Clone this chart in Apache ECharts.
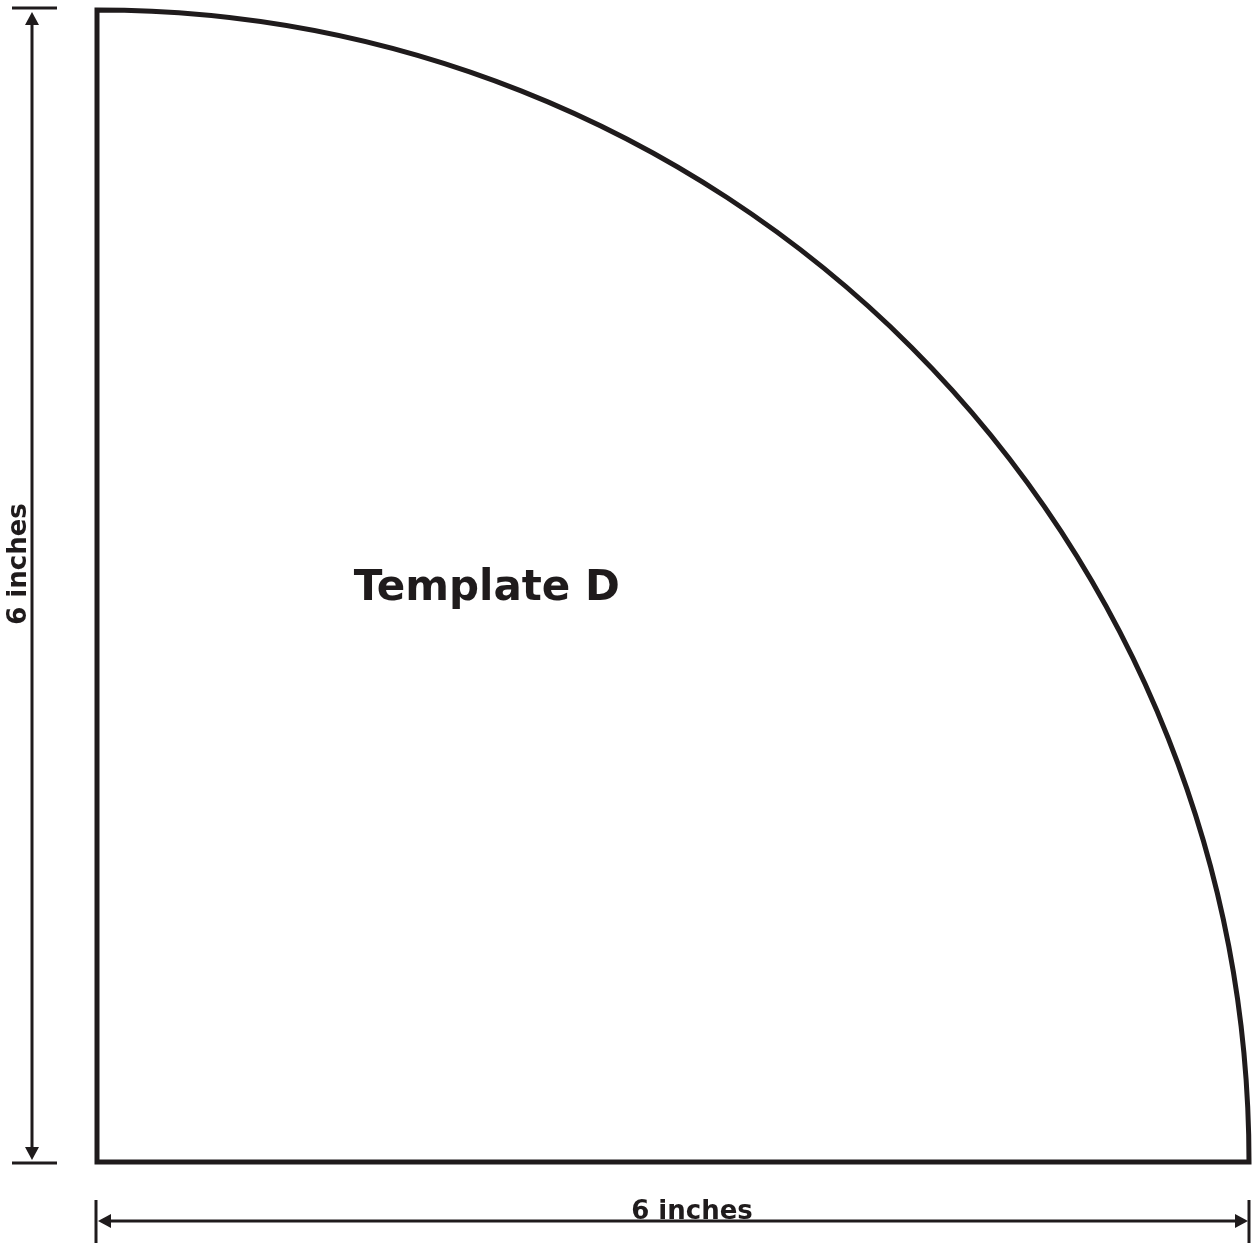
<!DOCTYPE html>
<html>
<head>
<meta charset="utf-8">
<script src="https://cdn.jsdelivr.net/npm/echarts@6/dist/echarts.min.js"></script>
<style>
  html, body { margin: 0; padding: 0; background: #fff; }
  #chart { width: 1252px; height: 1243px; }
</style>
</head>
<body>
<div id="chart"></div>
<script>
// template size in inches
const shapeWidth = 6;
const shapeHeight = 6;
const widthLabel = '6 inches';
const heightLabel = '6 inches';
const titleText = 'Template D';
// where the title sits, in inches from the corner
const titlePos = [2.03, 2.99];

const ink = '#1f1b1c';
const font = '"DejaVu Sans", Verdana, sans-serif';

function renderShape(params, api) {
    const c = api.coord([api.value(0), api.value(1)]);
    const r = api.size([api.value(2), 0])[0];
    return {
        type: 'sector',
        shape: { cx: c[0], cy: c[1], r: r, r0: 0, startAngle: -Math.PI / 2, endAngle: 0, clockwise: true },
        style: { fill: '#fff', stroke: ink, lineWidth: 5, lineJoin: 'miter' }
    };
}

function renderDims(params, api) {
    const p0 = api.coord([0, 0]);
    const pTop = api.coord([0, shapeHeight]);
    const pRight = api.coord([shapeWidth, 0]);
    const line = { stroke: ink, lineWidth: 3 };
    const head = { fill: ink };
    const a = 13, w = 7;

    // vertical dimension
    const vx = p0[0] - 65, vy1 = pTop[1], vy2 = p0[1] - 2;
    // horizontal dimension
    const hy = p0[1] + 59, hx1 = p0[0] + 1, hx2 = pRight[0] - 1;

    return {
        type: 'group',
        children: [
            { type: 'line', shape: { x1: vx, y1: vy1 + 8, x2: vx, y2: vy2 - 8 }, style: line },
            { type: 'polygon', shape: { points: [[vx, vy1], [vx - w, vy1 + a], [vx + w, vy1 + a]] }, style: head },
            { type: 'polygon', shape: { points: [[vx, vy2], [vx - w, vy2 - a], [vx + w, vy2 - a]] }, style: head },
            { type: 'line', shape: { x1: vx - 20, y1: vy1 - 4, x2: vx + 25, y2: vy1 - 4 }, style: line },
            { type: 'line', shape: { x1: vx - 20, y1: p0[1] + 1, x2: vx + 25, y2: p0[1] + 1 }, style: line },

            { type: 'line', shape: { x1: hx1 + 8, y1: hy, x2: hx2 - 8, y2: hy }, style: line },
            { type: 'polygon', shape: { points: [[hx1, hy], [hx1 + a, hy - w], [hx1 + a, hy + w]] }, style: head },
            { type: 'polygon', shape: { points: [[hx2, hy], [hx2 - a, hy - w], [hx2 - a, hy + w]] }, style: head },
            { type: 'line', shape: { x1: hx1 - 2, y1: hy - 21, x2: hx1 - 2, y2: hy + 23 }, style: line },
            { type: 'line', shape: { x1: hx2 + 1, y1: hy - 21, x2: hx2 + 1, y2: hy + 23 }, style: line },

            {
                type: 'text', x: (hx1 + hx2) / 2 + 19, y: hy + 4,
                style: { text: widthLabel, fill: ink, font: 'bold 26px ' + font, align: 'center', verticalAlign: 'bottom' }
            },
            {
                type: 'text', x: 19, y: (vy1 + vy2) / 2 - 22, rotation: Math.PI / 2,
                style: { text: heightLabel, fill: ink, font: 'bold 26px ' + font, align: 'center', verticalAlign: 'middle' }
            }
        ]
    };
}

function renderTitle(params, api) {
    const p = api.coord([api.value(0), api.value(1)]);
    return {
        type: 'text', x: p[0], y: p[1],
        style: { text: titleText, fill: ink, font: 'bold 42px ' + font, align: 'center', verticalAlign: 'middle' }
    };
}

const chart = echarts.init(document.getElementById('chart'));
chart.setOption({
    animation: false,
    backgroundColor: '#fff',
    grid: { left: 97, top: 12, width: 1152, height: 1150 },
    xAxis: { type: 'value', min: 0, max: shapeWidth, show: false },
    yAxis: { type: 'value', min: 0, max: shapeHeight, show: false },
    series: [
        { type: 'custom', renderItem: renderShape, data: [[0, 0, shapeWidth]], silent: true },
        { type: 'custom', renderItem: renderDims, data: [[0]], silent: true },
        { type: 'custom', renderItem: renderTitle, data: [titlePos], silent: true }
    ]
});
</script>
</body>
</html>
